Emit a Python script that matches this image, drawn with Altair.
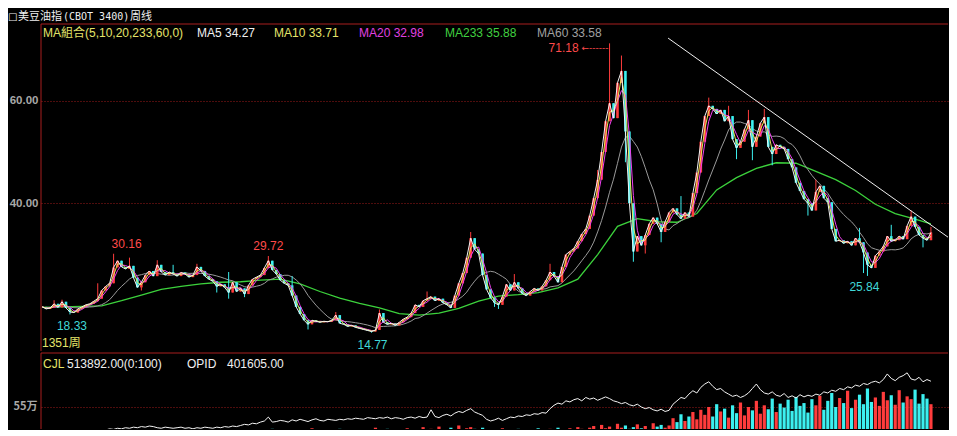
import altair as alt
import pandas as pd

# ---------------- data ----------------
# weekly close (one value every ~6 weeks of the original, left to right)
close = [
    19.8, 19.4, 19.6, 20.4, 19.7, 20.8, 19.6, 18.8, 18.7, 19.4,
    19.8, 20.2, 20.4, 20.9, 21.4, 23.0, 23.8, 24.4, 27.5, 28.8,
    27.6, 27.2, 27.8, 25.5, 23.6, 24.6, 26.0, 26.8, 25.8, 28.0,
    26.6, 26.0, 26.6, 26.2, 25.8, 26.5, 26.2, 25.6, 26.0, 27.6,
    26.8, 25.8, 25.2, 24.8, 23.8, 24.2, 23.6, 22.6, 24.6, 22.8,
    23.4, 22.3, 24.0, 25.2, 25.6, 26.0, 27.4, 28.8, 27.0, 26.2,
    25.0, 24.4, 24.0, 22.0, 19.8, 18.4, 17.2, 16.4, 17.2, 17.0,
    16.8, 17.0, 16.9, 17.2, 18.2, 16.6, 16.4, 16.0, 16.2, 15.8,
    15.6, 15.4, 15.2, 15.0, 15.3, 18.6, 16.8, 16.4, 16.6, 16.2,
    16.8, 17.4, 17.8, 18.6, 20.2, 19.8, 21.0, 21.4, 21.8, 21.0,
    21.4, 20.6, 20.2, 19.6, 22.0, 24.4, 26.4, 29.4, 33.2, 31.0,
    30.2, 26.0, 23.2, 21.6, 20.6, 20.2, 21.8, 24.2, 23.0, 24.6,
    23.4, 22.4, 22.0, 22.8, 23.4, 23.0, 23.8, 25.0, 26.6, 25.8,
    24.6, 27.6, 30.0, 30.6, 31.2, 32.6, 34.0, 35.0, 37.6, 41.0,
    44.6, 50.0, 56.0, 59.5, 56.6, 63.5, 65.8, 54.0, 40.0, 30.6,
    33.6, 31.8, 33.8, 36.0, 37.2, 36.0, 34.4, 36.4, 38.2, 39.0,
    37.8, 37.0, 38.2, 37.4, 42.0, 46.0, 52.0, 57.0, 59.0, 58.4,
    57.4, 58.2, 56.0, 57.0, 52.5, 50.8, 52.0, 54.4, 56.2, 51.0,
    53.0, 55.6, 56.8, 51.0, 49.6, 51.4, 51.0, 50.6, 48.6, 47.0,
    44.0, 42.4, 40.8, 40.0, 38.6, 42.2, 43.4, 41.0, 40.2, 35.0,
    32.6, 32.8, 32.2, 32.6, 31.8, 33.2, 32.4, 30.4, 28.0, 27.4,
    29.8, 30.6, 31.6, 33.6, 32.6, 32.8, 33.6, 33.0, 35.6, 37.4,
    35.4, 33.8, 33.2, 32.8, 34.3,
]
# visible upper / lower shadows (index, price)
hi_spike_idx = [3, 5, 14, 18, 22, 29, 33, 39, 47, 57, 63, 74, 85, 97, 108, 119, 128, 140,
                143, 146, 161, 168, 173, 178, 182, 195, 206, 214, 219, 224]
hi_spike_val = [21.1, 21.2, 24.4, 30.16, 29.4, 28.9, 28.0, 28.2, 26.6, 29.72, 25.8, 18.8, 19.3,
                22.8, 34.4, 26.2, 28.2, 46.5, 71.18, 68.8, 41.4, 60.6, 59.0, 58.2, 58.4, 44.6,
                35.2, 35.8, 38.6, 35.4]
lo_spike_idx = [7, 25, 44, 47, 51, 67, 83, 114, 115, 147, 149, 152, 156, 175, 179, 184, 193,
                207, 208, 222]
lo_spike_val = [18.33, 23.0, 22.6, 21.4, 21.7, 15.4, 14.77, 19.8, 19.4, 48.0, 28.6, 30.2, 32.4,
                48.6, 48.4, 47.4, 37.6, 26.4, 25.84, 31.4]

# MA233 (green), every 5th bar
ma233_idx = list(range(0, 225, 5)) + [224]
ma233_val = [
    19.7, 19.8, 19.9, 20.0, 21.0, 22.1, 23.2, 23.8, 24.3, 24.6,
    24.7, 25.0, 25.2, 24.3, 22.8, 21.5, 20.5, 19.6, 18.5, 18.2,
    18.6, 19.5, 20.9, 21.9, 22.2, 22.6, 23.5, 25.2, 30.0, 35.5,
    37.0, 36.4, 36.3, 38.0, 42.6, 45.0, 46.8, 47.9, 47.8, 46.2,
    44.6, 42.5, 39.8, 38.0, 36.9, 36.0,
]

# volume (万手) per bar
volume = [
    3, 5, 2, 6, 4, 3, 7, 4, 5, 3, 6, 4, 8, 5, 3, 7, 9, 5, 6, 4,
    8, 5, 3, 6, 9, 4, 7, 5, 10, 6, 4, 8, 5, 7, 3, 9, 6, 4, 8, 5,
    7, 10, 6, 4, 9, 5, 8, 6, 11, 7,
    6, 9, 12, 7, 10, 8, 14, 11, 16, 9, 7, 12, 10, 15, 8, 11, 13, 9, 17, 10,
    8, 12, 14, 9, 11, 16, 10, 13, 8, 15, 12, 9, 14, 11, 18, 10, 13, 16, 9, 12,
    15, 11, 17, 13, 10, 14, 19, 12, 16, 11, 20, 14, 12, 18, 15, 22, 13, 17, 19,
    16, 12, 18, 14, 10, 15, 13, 17, 11, 14, 12, 16, 10, 13, 15, 11, 17, 14, 12, 16,
    13, 18, 15, 12, 17, 14, 19, 16, 13, 18, 21, 15, 23, 17, 20, 14, 25, 18, 22, 16,
    19, 24, 17, 21, 15, 26, 20, 23, 18, 22,
    35, 28, 42, 30, 38, 46, 33, 50, 41, 55, 38, 60, 47, 52, 36, 58, 44, 63, 40, 55,
    49, 66, 43, 58, 51, 70, 46, 61, 54, 68, 48, 73, 57, 62, 45, 69,
    58, 75, 50, 66, 80, 55, 71, 62, 84, 53, 68, 77, 60, 88, 64, 72, 57, 82, 67, 76,
    59, 85, 63, 74, 69, 86, 61, 78, 70, 60,
]
# open interest OPID (万手)
opid = [
    7, 8, 8, 9, 8, 10, 9, 10, 11, 10, 11, 12, 11, 12, 13, 12,
    14, 16, 15, 17, 16, 18, 17, 19, 18, 20, 19, 21, 20,
    18, 17, 19, 18, 17, 18, 19, 17, 18, 16, 18, 17, 19, 18, 17, 19, 18, 20, 19, 21, 20,
    22, 24, 23, 26, 25, 28, 30, 37, 28,
    29, 31, 30, 28, 32, 30, 33, 31, 29, 32, 34, 31, 30, 33, 32, 31,
    33, 32, 34, 33, 35, 34, 33, 36, 35, 34, 36, 35, 37, 34, 36, 35, 33, 36, 37, 35, 38, 36, 37,
    50, 38, 36, 40, 42, 39, 44, 47, 45, 49,
    52, 46, 43, 40,
    33, 30, 32, 35, 31, 34, 37, 36, 39, 38, 41, 40, 43, 42, 45, 44,
    52, 58, 62, 60, 66, 64, 68, 70, 66, 72, 69, 71, 67, 70, 73,
    70, 66, 64, 61, 63, 59, 57, 60, 55, 52, 54, 50, 48, 51, 47, 49,
    60, 66, 72, 70, 78, 84, 80, 90, 96, 100,
    92, 86, 88, 82, 78, 74, 76, 72, 75, 80,
    88, 96, 86,
    80, 78, 82, 76, 74, 79, 72, 75, 71, 77, 73, 76,
    74, 78, 76, 82, 80, 85, 83, 88, 86, 91, 89, 94, 92, 97, 95, 99, 101, 98, 104,
    114, 106, 102, 108, 111, 116, 105, 103, 108, 100, 104, 101,
]
# hand-drawn resistance line (index, price)
trend_idx = [157.75, 230]
trend_val = [72.2, 32.46]
# annotated extremes
label_idx = [18, 57, 7, 83, 208, 143]
label_val = [30.16, 29.72, 18.33, 14.77, 25.84, 71.18]
legend_texts = ["MA組合(5,10,20,233,60,0)", "MA5 34.27", "MA10 33.71", "MA20 32.98", "MA233 35.88", "MA60 33.58"]

# ---------------- derived table ----------------
n = len(close)
df = pd.DataFrame({"i": list(range(n)), "close": close})
df["open"] = [close[0]] + close[:-1]
df["dir"] = ["up" if c >= o else "down" for c, o in zip(df["close"], df["open"])]
df["hi"] = df[["open", "close"]].max(axis=1)
df["lo"] = df[["open", "close"]].min(axis=1)
for k, v in zip(hi_spike_idx, hi_spike_val):
    df.loc[k, "hi"] = v
for k, v in zip(lo_spike_idx, lo_spike_val):
    df.loc[k, "lo"] = v
# short moving averages (one bar here ~ 6 weeks)
df["ma5"] = df["close"]
df["ma10"] = df["close"].rolling(2, min_periods=1).mean()
df["ma20"] = df["close"].rolling(3, min_periods=1).mean()
df["ma60"] = df["close"].rolling(10, min_periods=1).mean()
df["vol"] = volume
df["opid"] = opid
ma233_df = pd.DataFrame({"i": ma233_idx, "v": ma233_val})

# ---------------- layout ----------------
W, HM, HV, EXT = 907, 343, 76, 33
FONT = "Liberation Sans, Noto Sans CJK SC"
RED = "#a81e1e"
TOPLINE = 16

xs = alt.Scale(domain=[-0.3, 228.3], nice=False, zero=False)
def X():
    return alt.X("i:Q", scale=xs, axis=None)

ym = alt.Scale(domain=[11.2, 78.07], nice=False, zero=False)
yax = alt.Axis(values=[40, 60], format=".2f", title=None, labelColor="#a8a8a8",
               labelFontWeight="bold", labelFontSize=11.5, labelFont="Liberation Sans",
               ticks=False, domain=False, grid=True, gridColor="#9c1a1a",
               gridDash=[1, 2], labelPadding=3, minExtent=EXT, maxExtent=EXT)
def Y(f):
    return alt.Y(f + ":Q", scale=ym, axis=yax)

cscale = alt.Scale(domain=["up", "down"], range=["#ff3c3c", "#3cf0f0"])
base = alt.Chart(df)

ma233 = alt.Chart(ma233_df).mark_line(color="#3cd23c", strokeWidth=1.3).encode(x=X(), y=Y("v"))
ma60 = base.mark_line(color="#9a9a9a", strokeWidth=1).encode(x=X(), y=Y("ma60"))
wick = base.mark_rule(strokeWidth=1).encode(
    x=X(), y=Y("lo"), y2="hi:Q", color=alt.Color("dir:N", scale=cscale, legend=None))
body = base.mark_rule(strokeWidth=2.6).encode(
    x=X(), y=Y("open"), y2="close:Q", color=alt.Color("dir:N", scale=cscale, legend=None))
ma20 = base.mark_line(color="#f040f0", strokeWidth=1).encode(x=X(), y=Y("ma20"))
ma10 = base.mark_line(color="#e6e65a", strokeWidth=1).encode(x=X(), y=Y("ma10"))
ma5 = base.mark_line(color="#f4f4f4", strokeWidth=1).encode(x=X(), y=Y("ma5"))

trend = alt.Chart(pd.DataFrame({"i": trend_idx, "v": trend_val})).mark_line(
    color="#f0f0f0", strokeWidth=1, clip=True).encode(x=X(), y=Y("v"))

one = pd.DataFrame({"a": [0]})
def deco_text(txt, x, y, color, size=12, font=FONT, align="left"):
    return alt.Chart(pd.DataFrame({"t": [txt]})).mark_text(
        color=color, fontSize=size, font=font, align=align, baseline="middle"
    ).encode(x=alt.value(x), y=alt.value(y), text="t:N")

layers = [ma233, ma60, wick, body, ma20, ma10, ma5, trend]

# extreme labels
lab_style = [
    dict(color="#ff4a4a", dx=13, dy=-3, baseline="bottom", align="center"),
    dict(color="#ff4a4a", dx=0, dy=-3, baseline="bottom", align="center"),
    dict(color="#40d8d8", dx=2, dy=7, baseline="top", align="center"),
    dict(color="#40d8d8", dx=1, dy=7, baseline="top", align="center"),
    dict(color="#40d8d8", dx=-3, dy=6, baseline="top", align="center"),
    dict(color="#ff4a4a", dx=-31, dy=5, baseline="middle", align="right"),
]
for k, v, st in zip(label_idx, label_val, lab_style):
    layers.append(alt.Chart(pd.DataFrame({"i": [k], "v": [v], "t": [f"{v:.2f}"]})).mark_text(
        fontSize=12, font=FONT, **st).encode(x=X(), y=Y("v"), text="t:N"))
# arrow to the top
layers.append(alt.Chart(pd.DataFrame({"i": [label_idx[5]], "v": [label_val[5]], "t": ["←------"]})).mark_text(
    fontSize=9, font="DejaVu Sans", color="#ff4a4a", align="right", baseline="middle", dx=-1, dy=5
).encode(x=X(), y=Y("v"), text="t:N"))

# frame lines
layers.append(alt.Chart(one).mark_rule(color=RED, strokeWidth=1).encode(
    x=alt.value(0), x2=alt.value(W), y=alt.value(TOPLINE)))
layers.append(alt.Chart(one).mark_rule(color=RED, strokeWidth=1).encode(
    x=alt.value(0), y=alt.value(TOPLINE), y2=alt.value(HM)))

# title + legend row
layers.append(deco_text("□", -33, 8.5, "#f0f0f0", size=10, font="DejaVu Sans"))
layers.append(deco_text("美豆油指", -23, 8.5, "#f0f0f0", size=11, font="Noto Sans CJK SC"))
layers.append(deco_text("(CBOT 3400)", 22, 8.7, "#f0f0f0", size=10, font="DejaVu Sans Mono"))
layers.append(deco_text("周线", 89, 8.5, "#f0f0f0", size=11, font="Noto Sans CJK SC"))
leg_x = [2, 156, 233, 318, 404, 496]
leg_c = ["#e4e46a", "#f0f0f0", "#e4e46a", "#e040e0", "#40d040", "#a0a0a0"]
for t, x0, c in zip(legend_texts, leg_x, leg_c):
    layers.append(deco_text(t, x0, 25, c))
layers.append(deco_text("1351周", 1, 335, "#e4e46a"))

main = alt.layer(*layers).properties(width=W, height=HM)

# ---------------- volume panel ----------------
yv = alt.Scale(domain=[15.7, 151.4], nice=False, zero=False)
yvax = alt.Axis(values=[55], labelExpr="datum.value + '万'", title=None, labelColor="#a8a8a8",
                labelFontWeight="bold", labelFontSize=11, labelFont="Noto Sans CJK SC",
                ticks=False, domain=False, grid=True, gridColor="#9c1a1a", gridDash=[1, 2],
                labelPadding=4, minExtent=EXT, maxExtent=EXT)
vbars = base.mark_rule(strokeWidth=3.2, clip=True).encode(
    x=X(), y=alt.Y("vol:Q", scale=yv, axis=yvax), y2=alt.datum(0),
    color=alt.Color("dir:N", scale=cscale, legend=None))
vline = base.mark_line(color="#f4f4f4", strokeWidth=1, clip=True).encode(
    x=X(), y=alt.Y("opid:Q", scale=yv, axis=yvax))
vlayers = [vbars, vline,
           alt.Chart(one).mark_rule(color=RED, strokeWidth=1).encode(
               x=alt.value(0), x2=alt.value(W), y=alt.value(0)),
           alt.Chart(one).mark_rule(color=RED, strokeWidth=1).encode(
               x=alt.value(0), y=alt.value(0), y2=alt.value(HV)),
           deco_text("CJL", 2, 11, "#e4e46a"),
           deco_text("513892.00(0:100)", 26, 11, "#f0f0f0"),
           deco_text("OPID", 146, 11, "#f0f0f0"),
           deco_text("401605.00", 186, 11, "#f0f0f0")]
vol = alt.layer(*vlayers).properties(width=W, height=HV)

chart = alt.vconcat(main, vol, spacing=0).resolve_scale(
    x="independent", y="independent", color="shared"
).properties(padding=0).configure(background="#000000").configure_view(stroke=None)

chart.save("out.html", embed_options={"renderer": "svg", "actions": False})
